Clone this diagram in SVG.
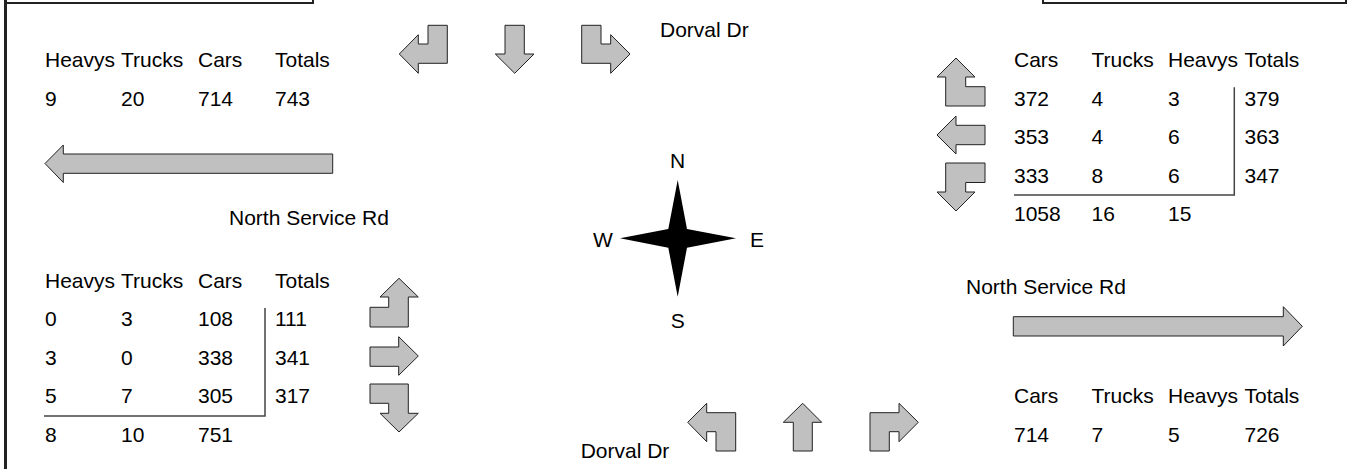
<svg xmlns="http://www.w3.org/2000/svg" width="1348" height="469" viewBox="0 0 1348 469">
<style>
text{font-family:"Liberation Sans",Arial,Helvetica,sans-serif;font-size:21px;fill:#000}
.mid{text-anchor:middle}
.arr{fill:#c0c0c0;stroke:#222;stroke-width:1;stroke-linejoin:miter}
.tl{stroke:#444;stroke-width:1.5;fill:none}
.frame{stroke:#222;stroke-width:2;fill:none}
</style>
<rect width="1348" height="469" fill="#fff"/>
<g id="frame">
<line x1="5.5" y1="0" x2="5.5" y2="469" stroke="#222" stroke-width="3"/>
<rect class="frame" x="5.5" y="-10" width="307.5" height="13"/>
<rect class="frame" x="1043" y="-10" width="303" height="13"/>
</g>
<g id="north-approach">
<text x="660" y="37">Dorval Dr</text>
<path class="arr" d="M447.3,25.3 L447.3,63.3 L418.3,63.3 L418.3,73.3 L399.3,54 L418.3,34.7 L418.3,44 L428,44 L428,25.3 Z"/>
<path class="arr" d="M505,25.3 L524.3,25.3 L524.3,54 L534,54 L514.7,73.3 L495.3,54 L505,54 Z"/>
<path class="arr" d="M581.7,25.3 L601,25.3 L601,44 L610.7,44 L610.7,34.7 L630,54 L610.7,73.3 L610.7,63.3 L581.7,63.3 Z"/>
</g>
<g id="west-exit">
<text x="45" y="67">Heavys</text><text x="121" y="67">Trucks</text><text x="198" y="67">Cars</text><text x="275" y="67">Totals</text>
<text x="45" y="105.5">9</text><text x="121" y="105.5">20</text><text x="198" y="105.5">714</text><text x="275" y="105.5">743</text>
<path class="arr" d="M332.7,154 L63.3,154 L63.3,145 L45,163.5 L63.3,182.5 L63.3,173.3 L332.7,173.3 Z"/>
<text x="229" y="225">North Service Rd</text>
</g>
<g id="west-approach">
<text x="45" y="287.5">Heavys</text><text x="121" y="287.5">Trucks</text><text x="198" y="287.5">Cars</text><text x="275" y="287.5">Totals</text>
<text x="45" y="326">0</text><text x="121" y="326">3</text><text x="198" y="326">108</text><text x="275" y="326">111</text>
<text x="45" y="364.5">3</text><text x="121" y="364.5">0</text><text x="198" y="364.5">338</text><text x="275" y="364.5">341</text>
<text x="45" y="403">5</text><text x="121" y="403">7</text><text x="198" y="403">305</text><text x="275" y="403">317</text>
<text x="45" y="441.5">8</text><text x="121" y="441.5">10</text><text x="198" y="441.5">751</text>
<path class="tl" d="M265,308 L265,416 L44,416"/>
<path class="arr" d="M408.3,327 L370,327 L370,307.3 L388.7,307.3 L388.7,297 L380,297 L399,278.3 L418.3,297 L408.3,297 Z"/>
<path class="arr" d="M370,347 L398.7,347 L398.7,336.7 L418.3,356 L398.7,375.3 L398.7,366.3 L370,366.3 Z"/>
<path class="arr" d="M370,384 L408.3,384 L408.3,413.3 L418.3,413.3 L399,432 L380,413.3 L388.7,413.3 L388.7,403.3 L370,403.3 Z"/>
</g>
<g id="compass">
<path d="M677.7,180 L687,229 L736,238.3 L687,247.7 L677.7,296.7 L668.3,247.7 L620,238.3 L668.3,229 Z" fill="#000"/>
<text class="mid" x="677.7" y="168.3">N</text>
<text class="mid" x="677.7" y="328.3">S</text>
<text x="593" y="247.3">W</text>
<text x="750" y="247.3">E</text>
</g>
<g id="east-approach">
<path class="arr" d="M985,106 L945.7,106 L945.7,77 L937,77 L956,58 L975,77 L965.7,77 L965.7,86.7 L985,86.7 Z"/>
<path class="arr" d="M985,125.3 L956,125.3 L956,116 L937,135 L956,154 L956,144.7 L985,144.7 Z"/>
<path class="arr" d="M945.7,163 L985,163 L985,182.5 L965.7,182.5 L965.7,192 L975,192 L956,211 L937,192 L945.7,192 Z"/>
<text x="1014" y="66.7">Cars</text><text x="1091.5" y="66.7">Trucks</text><text x="1168" y="66.7">Heavys</text><text x="1244.5" y="66.7">Totals</text>
<text x="1014" y="105.5">372</text><text x="1091.5" y="105.5">4</text><text x="1168" y="105.5">3</text><text x="1244.5" y="105.5">379</text>
<text x="1014" y="144">353</text><text x="1091.5" y="144">4</text><text x="1168" y="144">6</text><text x="1244.5" y="144">363</text>
<text x="1014" y="182.7">333</text><text x="1091.5" y="182.7">8</text><text x="1168" y="182.7">6</text><text x="1244.5" y="182.7">347</text>
<text x="1014" y="221.3">1058</text><text x="1091.5" y="221.3">16</text><text x="1168" y="221.3">15</text>
<path class="tl" d="M1234.3,87.3 L1234.3,195 L1014,195"/>
</g>
<g id="east-exit">
<text x="966" y="294">North Service Rd</text>
<path class="arr" d="M1013.3,316.7 L1283.3,316.7 L1283.3,306.7 L1302.3,326.3 L1283.3,346 L1283.3,336 L1013.3,336 Z"/>
<text x="1014" y="402.7">Cars</text><text x="1091.5" y="402.7">Trucks</text><text x="1168" y="402.7">Heavys</text><text x="1244.5" y="402.7">Totals</text>
<text x="1014" y="441.7">714</text><text x="1091.5" y="441.7">7</text><text x="1168" y="441.7">5</text><text x="1244.5" y="441.7">726</text>
</g>
<g id="south-approach">
<path class="arr" d="M735.7,451 L735.7,412.7 L706.7,412.7 L706.7,403.3 L687.7,422.3 L706.7,441.7 L706.7,431.7 L716,431.7 L716,451 Z"/>
<path class="arr" d="M793.3,451 L793.3,422.3 L783.3,422.3 L802.7,403.3 L821.7,422.3 L812.3,422.3 L812.3,451 Z"/>
<path class="arr" d="M870,451 L870,412.7 L899,412.7 L899,403.3 L918.3,422.3 L899,441.7 L899,431.7 L889.3,431.7 L889.3,451 Z"/>
<text x="580.7" y="458.3">Dorval Dr</text>
</g>
</svg>
